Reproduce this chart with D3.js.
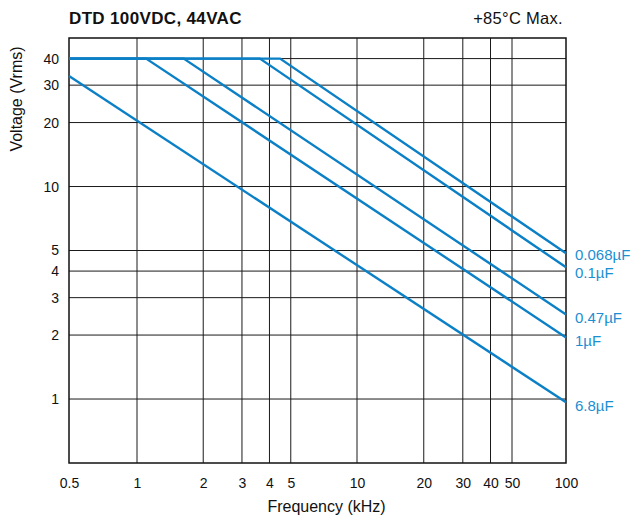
<!DOCTYPE html>
<html>
<head>
<meta charset="utf-8">
<script src="https://cdn.jsdelivr.net/npm/d3@7"></script>
<style>
  body { margin: 0; background: #fff; }
  text { font-family: "Liberation Sans", Arial, sans-serif; fill: #111; }
</style>
</head>
<body>
<svg id="chart" width="633" height="517"></svg>
<script>
// chart values
const xTicks = [0.5, 1, 2, 3, 4, 5, 10, 20, 30, 40, 50, 100];
const xGrid = [1, 2, 3, 4, 5, 10, 20, 30, 40, 50];
const yTicks = [1, 2, 3, 4, 5, 10, 20, 30, 40];
const yGrid = [1, 2, 3, 4, 5, 10, 20, 30, 40];

const seriesNames = ['0.068\u00b5F', '0.1\u00b5F', '0.47\u00b5F', '1\u00b5F', '6.8\u00b5F'];
// [frequency kHz, voltage Vrms]
const cap0068 = [[0.5, 40], [4.47, 40], [100, 4.85]];
const cap01 = [[0.5, 40], [3.62, 40], [100, 4.17]];
const cap047 = [[0.5, 40], [1.63, 40], [100, 2.5]];
const cap1 = [[0.5, 40], [1.1, 40], [100, 1.95]];
const cap68 = [[0.5, 33.1], [100, 0.965]];
const seriesValues = [cap0068, cap01, cap047, cap1, cap68];

const svg = d3.select('#chart');
const plotLeft = 69, plotRight = 566, plotTop = 38, plotBottom = 463;
const blue = '#0c80c6';

// the printed axis is not a perfect log scale, so calibrate it in pieces
const x = d3.scaleLog()
  .domain([0.5, 1, 10, 50, 100])
  .range([plotLeft, 137, 357, 512, plotRight]);
const y = d3.scaleLog().domain([0.5, 50]).range([plotBottom, plotTop]);

// grid
svg.append('g').selectAll('line').data(xGrid).join('line')
  .attr('x1', d => x(d)).attr('x2', d => x(d))
  .attr('y1', plotTop).attr('y2', plotBottom)
  .attr('stroke', '#1a1a1a').attr('stroke-width', 1);
svg.append('g').selectAll('line').data(yGrid).join('line')
  .attr('y1', d => y(d)).attr('y2', d => y(d))
  .attr('x1', plotLeft).attr('x2', plotRight)
  .attr('stroke', '#1a1a1a').attr('stroke-width', 1);

// frame
svg.append('rect')
  .attr('x', plotLeft).attr('y', plotTop)
  .attr('width', plotRight - plotLeft).attr('height', plotBottom - plotTop)
  .attr('fill', 'none').attr('stroke', '#111').attr('stroke-width', 1.5);

// axes (labels only, no tick marks)
const xAxis = d3.axisBottom(x).tickValues(xTicks).tickSize(0).tickPadding(15)
  .tickFormat(d => String(d));
svg.append('g').attr('transform', `translate(0,${plotBottom})`).call(xAxis)
  .call(g => g.select('.domain').remove())
  .selectAll('text').attr('font-size', 14).attr('fill', '#111')
  .attr('font-family', '"Liberation Sans", Arial, sans-serif');

const yAxis = d3.axisLeft(y).tickValues(yTicks).tickSize(0).tickPadding(10)
  .tickFormat(d => String(d));
svg.append('g').attr('transform', `translate(${plotLeft},0)`).call(yAxis)
  .call(g => g.select('.domain').remove())
  .selectAll('text').attr('font-size', 14).attr('fill', '#111')
  .attr('font-family', '"Liberation Sans", Arial, sans-serif');

// curves
const line = d3.line().x(d => x(d[0])).y(d => y(d[1]));
svg.append('g').selectAll('path').data(seriesValues).join('path')
  .attr('d', line)
  .attr('fill', 'none')
  .attr('stroke', blue)
  .attr('stroke-width', 2.4);

// curve labels at the right end, spread apart so they don't collide
const labelPos = seriesValues.map(d => y(d[d.length - 1][1]) + 3);
const minGap = 18;
for (let i = 1; i < labelPos.length; i++) {
  const gap = labelPos[i] - labelPos[i - 1];
  if (gap < minGap) {
    const shift = (minGap - gap) / 2;
    labelPos[i - 1] -= shift;
    labelPos[i] += shift;
  }
}
svg.append('g').selectAll('text').data(seriesValues).join('text')
  .attr('x', x(100) + 9)
  .attr('y', (d, i) => labelPos[i])
  .attr('dominant-baseline', 'central')
  .attr('font-size', 15)
  .style('fill', '#1a8fd2')
  .text((d, i) => seriesNames[i]);

// titles
svg.append('text')
  .attr('x', plotLeft).attr('y', 24)
  .attr('font-size', 17).attr('font-weight', 'bold')
  .attr('letter-spacing', 0.35)
  .text('DTD 100VDC, 44VAC');

svg.append('text')
  .attr('x', 563).attr('y', 23.5)
  .attr('text-anchor', 'end')
  .attr('font-size', 16.5)
  .attr('letter-spacing', 0.3)
  .text('+85\u00b0C Max.');

svg.append('text')
  .attr('x', (plotLeft + plotRight) / 2 + 9).attr('y', 512)
  .attr('text-anchor', 'middle')
  .attr('font-size', 16)
  .text('Frequency (kHz)');

svg.append('text')
  .attr('transform', 'translate(22,99) rotate(-90)')
  .attr('text-anchor', 'middle')
  .attr('font-size', 16)
  .text('Voltage (Vrms)');
</script>
</body>
</html>
